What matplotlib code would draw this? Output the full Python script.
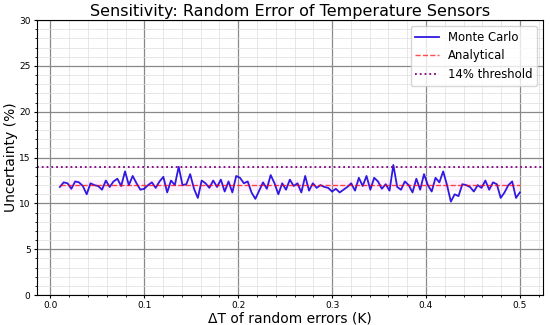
import numpy as np
import matplotlib.pyplot as plt
from matplotlib.ticker import AutoMinorLocator

# Monte Carlo uncertainty (%), evenly spaced in dT
mc_uncertainty = [
    11.8, 12.3, 12.2, 11.6, 12.4, 12.3, 11.9, 11.0, 12.2, 12.0,
    11.9, 11.5, 12.5, 11.8, 12.4, 12.7, 11.9, 13.5, 12.0, 13.0, 12.2, 11.5,
    11.6, 12.0, 12.3, 11.7, 12.4, 12.9, 11.2, 12.5, 12.0, 14.0, 12.0, 12.1,
    13.2, 11.6, 10.6, 12.5, 12.2, 11.7, 12.5, 11.8, 12.6, 11.3, 12.4, 11.2,
    13.0, 12.8, 12.2, 12.4, 11.2, 10.5, 11.4, 12.3, 11.6, 13.1, 12.2, 11.0,
    12.2, 11.5, 12.6, 11.9, 12.2, 11.2, 13.0, 11.4, 12.2, 11.7, 12.0, 11.8,
    11.7, 11.3, 11.6, 11.2, 11.5, 11.8, 12.2, 11.4, 12.8, 11.9, 13.0, 11.5, 12.8,
    12.4, 11.6, 12.1, 11.4, 14.2, 11.8, 11.5, 12.4, 12.0, 11.2, 12.7, 11.5,
    13.2, 12.0, 11.3, 12.8, 12.3, 13.5, 12.0, 10.2, 11.0, 10.8, 12.1, 12.0,
    11.8, 11.3, 12.0, 11.7, 12.5, 11.5, 12.3, 12.1, 10.6, 11.2, 12.0, 12.4, 10.6, 11.2,
]
dT_start, dT_end = 0.01, 0.5
analytical_value = 12.0
analytical_band = 0.6
threshold = 14.0

dT = np.linspace(dT_start, dT_end, len(mc_uncertainty))
analytical = np.full_like(dT, analytical_value)

fig, ax = plt.subplots(figsize=(5.5, 3.25), dpi=100)
fig.subplots_adjust(left=0.067, right=0.987, bottom=0.092, top=0.938)

ax.plot(dT, mc_uncertainty, color='#1a00e0', alpha=0.9, lw=1.3, label='Monte Carlo')
ax.plot(dT, analytical, color='red', ls='--', alpha=0.7, lw=1.0, label='Analytical')
ax.fill_between(dT, analytical - analytical_band, analytical + analytical_band,
                color='magenta', alpha=0.06, lw=0)
ax.axhline(threshold, color='purple', ls=':', lw=1.3, label='14% threshold')

ax.set_ylim(0, 30)
ax.set_title('Sensitivity: Random Error of Temperature Sensors', fontsize=11.5, pad=3)
ax.set_xlabel('ΔT of random errors (K)', fontsize=10, labelpad=1)
ax.set_ylabel('Uncertainty (%)', fontsize=10, labelpad=1)
ax.tick_params(labelsize=6.5, length=2.5, pad=2)

ax.xaxis.set_minor_locator(AutoMinorLocator(5))
ax.yaxis.set_minor_locator(AutoMinorLocator(5))
ax.tick_params(which='minor', length=1.5)
ax.grid(which='major', color='#888888', lw=0.9)
ax.grid(which='minor', color='#dddddd', lw=0.5)
ax.set_axisbelow(True)

ax.legend(loc='upper right', fontsize=8.4)

plt.savefig('out.png', dpi=100)
